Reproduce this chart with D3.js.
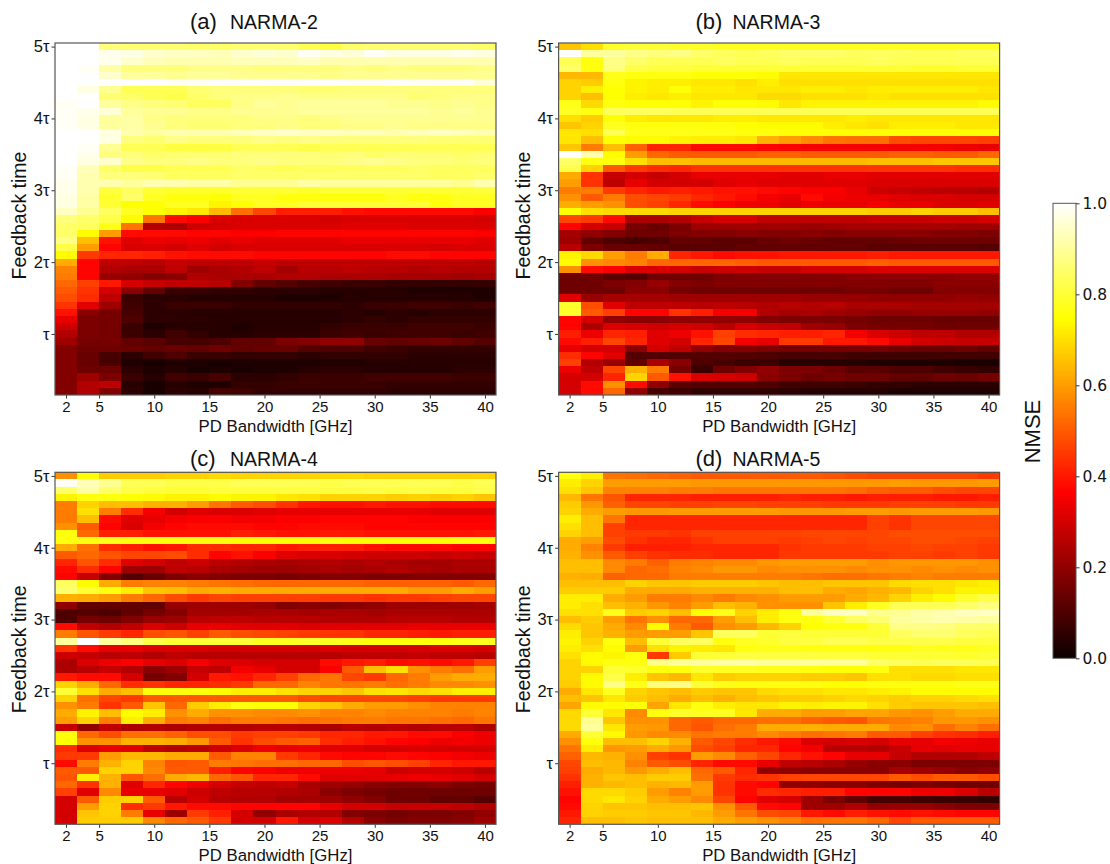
<!DOCTYPE html>
<html>
<head>
<meta charset="utf-8">
<script src="https://cdn.jsdelivr.net/npm/d3@7"></script>
<style>
  body { margin: 0; background: #fff; }
  text { font-family: "Liberation Sans", Arial, sans-serif; fill: #111; }
</style>
</head>
<body>
<div id="chart"></div>
<script>
// NMSE x 100, one line per feedback time, top row (5 tau) first, columns follow bandwidths
var bandwidths = [2,4,6,8,10,12,14,16,18,20,22,24,26,28,30,32,34,36,38,40];
var feedbackTimes = [5,4.9,4.8,4.7,4.6,4.5,4.4,4.3,4.2,4.1,4,3.9,3.8,3.7,3.6,3.5,3.4,3.3,3.2,3.1,3,2.9,2.8,2.7,2.6,2.5,2.4,2.3,2.2,2.1,2,1.9,1.8,1.7,1.6,1.5,1.4,1.3,1.2,1.1,1,0.9,0.8,0.7,0.6,0.5,0.4,0.3,0.2];
var xTicks = [2,5,10,15,20,25,30,35,40];
var yTicks = [1,2,3,4,5];
var yTickLabels = ["τ","2τ","3τ","4τ","5τ"];
var cbarTicks = [0,0.2,0.4,0.6,0.8,1];

var narma2 = [
[100,100,87,86,86,86,85,85,86,86,86,83,81,85,86,86,86,86,86,85],
[100,100,98,97,95,94,94,93,95,96,95,99,97,96,99,97,97,97,98,97],
[100,100,98,95,93,92,92,92,93,93,93,94,92,92,92,92,92,92,92,92],
[100,99,91,87,87,87,88,88,88,87,87,87,87,88,87,88,87,87,87,88],
[100,100,95,90,90,89,90,90,89,89,89,89,88,89,89,89,89,89,89,89],
[100,100,100,100,100,99,99,100,100,100,100,100,100,99,99,100,99,99,99,96],
[100,97,89,83,83,83,86,87,87,87,87,86,86,87,87,87,87,87,87,87],
[100,100,86,85,83,82,85,87,88,88,89,88,88,88,88,88,86,87,88,88],
[99,100,90,88,87,86,84,84,88,90,89,90,90,90,90,89,89,88,89,88],
[99,98,96,90,89,89,88,88,89,89,89,90,90,90,90,90,90,89,90,89],
[99,97,90,91,88,87,87,87,87,88,88,87,88,89,89,89,89,89,89,89],
[99,97,90,91,89,87,86,86,87,87,88,87,87,88,88,89,88,88,88,88],
[100,100,97,92,90,92,92,92,93,94,95,94,94,93,93,92,93,94,93,92],
[100,100,97,87,86,88,87,87,87,88,87,88,87,87,87,87,87,86,86,86],
[100,99,89,83,83,81,81,81,83,83,83,82,83,83,83,83,83,83,83,83],
[100,98,87,87,85,86,86,86,87,87,87,87,86,87,85,86,86,86,85,86],
[100,97,95,88,87,87,88,87,87,88,87,87,87,88,89,88,87,87,86,87],
[99,93,85,82,82,83,83,83,85,84,83,84,84,84,84,84,85,84,84,84],
[99,92,87,87,86,84,84,84,85,85,85,85,85,85,85,85,85,84,84,85],
[98,92,92,90,92,92,91,91,89,89,89,91,90,90,90,90,90,90,89,92],
[98,92,81,84,80,79,79,79,80,80,80,79,80,80,80,80,80,80,80,81],
[97,91,79,85,78,76,76,75,78,78,76,76,76,76,76,78,76,76,78,78],
[97,91,80,75,75,78,78,73,75,78,78,80,80,80,80,80,80,76,78,78],
[94,89,84,78,75,73,71,64,53,47,41,41,41,39,38,38,38,38,38,36],
[87,85,82,74,54,38,36,31,31,31,31,31,30,31,31,31,31,31,31,30],
[85,84,77,54,25,24,29,30,31,31,31,31,31,32,32,32,31,31,31,31],
[85,74,60,38,38,38,37,37,36,36,37,37,37,37,37,37,37,37,37,36],
[88,65,39,32,34,33,34,32,33,32,32,32,32,33,33,33,33,33,33,32],
[82,60,37,31,31,30,32,30,31,31,31,31,31,31,31,31,31,30,31,31],
[74,45,42,42,41,39,38,38,38,37,37,37,37,37,37,38,38,37,37,37],
[62,37,27,27,26,28,27,27,27,28,27,27,27,27,27,27,27,27,27,26],
[56,37,25,24,24,27,22,24,25,27,23,26,26,27,26,26,25,26,25,25],
[55,37,21,20,18,19,25,24,24,24,25,25,24,24,24,23,23,23,22,23],
[52,46,40,30,28,27,27,26,18,13,11,9,8,7,7,6,6,6,6,6],
[50,44,30,19,13,7,7,6,6,5,5,5,4,4,4,4,3,3,3,3],
[48,43,27,7,5,5,4,4,4,4,3,3,3,4,4,4,4,4,4,3],
[44,32,22,8,5,7,7,7,6,6,6,6,6,5,7,7,8,8,7,8],
[39,19,16,9,5,5,4,4,4,4,4,4,4,5,4,5,4,5,5,5],
[33,17,16,10,5,5,5,4,4,4,4,4,4,5,6,5,6,6,6,6],
[29,17,16,7,3,4,4,4,3,4,4,4,6,7,7,7,8,8,8,7],
[25,17,16,7,5,8,6,4,4,5,5,5,7,8,7,8,8,8,7,8],
[22,16,16,13,12,9,9,10,13,13,17,18,20,20,14,13,14,15,13,11],
[18,15,15,14,13,14,13,15,13,14,14,11,10,10,8,7,6,6,6,6],
[18,14,9,5,8,10,7,7,6,6,6,5,6,6,6,6,5,5,5,5],
[18,14,9,3,2,3,3,2,3,3,3,3,3,3,4,4,4,4,4,4],
[18,15,15,5,3,4,2,3,2,3,3,4,5,5,4,4,4,4,5,5],
[18,22,17,7,4,8,7,9,5,5,6,7,7,7,8,8,8,8,7,7],
[18,25,27,4,2,4,3,3,6,6,7,7,7,7,7,6,6,6,6,6],
[18,25,18,5,2,5,4,9,8,6,6,6,6,6,6,5,5,5,5,5]
];

var narma3 = [
[66,70,79,80,80,79,79,78,78,78,78,78,78,78,78,78,78,78,78,78],
[100,90,90,88,87,88,85,84,83,84,85,85,85,84,84,84,83,83,84,84],
[83,76,88,85,83,83,83,84,83,83,84,83,83,83,84,83,83,83,83,83],
[85,76,87,82,81,81,80,80,80,80,80,80,80,80,80,80,79,79,80,80],
[64,64,77,76,76,76,75,75,75,74,71,71,71,71,71,71,71,71,71,71],
[68,67,76,73,72,72,71,71,70,72,70,70,70,70,70,70,70,70,70,70],
[68,72,75,73,72,75,72,72,71,71,71,72,72,71,72,72,72,72,72,71],
[68,65,75,72,71,72,71,71,71,69,69,70,70,70,71,70,70,70,70,70],
[77,69,76,75,75,75,73,75,75,74,71,73,73,73,73,73,73,73,73,74],
[78,76,84,84,84,83,83,83,83,83,83,83,83,83,83,83,83,83,83,83],
[70,67,75,72,71,71,71,72,72,71,71,71,71,72,71,71,71,71,71,71],
[66,68,78,76,76,76,76,76,75,74,74,74,72,71,70,72,72,72,71,71],
[71,70,83,77,77,77,77,77,76,76,75,75,75,75,75,75,75,75,75,75],
[71,65,75,74,74,73,72,72,71,63,60,57,54,53,53,48,47,47,47,46],
[66,55,65,51,42,42,38,38,38,37,36,35,35,35,35,35,35,35,34,33],
[100,92,74,60,52,50,50,50,50,51,51,50,50,50,50,51,51,50,50,52],
[85,76,76,70,65,65,64,64,64,64,64,64,64,64,65,65,65,66,66,66],
[82,68,50,45,43,42,44,44,44,44,44,44,44,44,44,44,44,44,43,43],
[62,44,28,30,28,30,33,33,33,33,32,32,33,33,32,32,32,32,32,32],
[60,44,27,33,30,30,30,32,33,32,32,32,32,32,31,31,31,31,31,31],
[55,55,45,42,40,41,40,39,39,38,37,36,36,33,29,28,27,26,26,25],
[58,50,55,48,47,45,42,40,38,35,33,38,35,34,33,32,31,31,30,30],
[62,60,58,48,46,42,38,36,34,34,32,34,33,33,35,33,33,31,31,32],
[75,70,69,69,69,68,68,68,68,68,68,68,68,68,67,67,68,67,67,65],
[47,45,38,24,24,25,28,30,30,27,27,27,27,27,28,28,28,29,29,30],
[37,30,28,16,14,17,22,22,22,22,22,21,22,23,23,23,23,23,22,22],
[23,20,18,15,15,17,18,18,19,18,18,19,18,19,19,19,19,18,18,17],
[22,13,10,9,10,13,13,12,12,14,15,14,13,13,13,14,15,15,15,15],
[26,17,14,14,13,12,12,12,13,13,13,13,13,13,12,12,12,12,12,11],
[73,69,60,55,62,42,40,38,39,39,40,40,40,40,41,40,40,40,40,40],
[74,58,57,56,52,52,52,52,51,50,50,50,50,50,51,50,50,50,50,50],
[58,38,36,31,31,30,28,29,29,28,28,30,30,30,31,31,31,31,31,31],
[15,15,12,11,15,15,15,17,18,18,18,18,18,19,19,19,19,19,20,20],
[15,15,17,18,21,18,17,18,18,18,18,18,18,18,18,18,18,19,19,19],
[15,15,15,19,19,16,15,15,15,15,15,15,15,16,16,15,15,18,18,18],
[32,21,23,23,23,22,22,22,22,22,22,21,21,21,20,20,20,20,21,20],
[79,48,32,27,27,27,26,27,26,25,26,25,26,24,24,24,23,23,23,23],
[79,50,46,37,37,44,41,35,35,25,23,24,22,21,20,20,21,21,21,20],
[37,30,20,19,19,20,20,20,20,18,17,17,17,16,15,15,15,14,14,14],
[37,24,31,30,29,30,29,26,30,28,27,22,21,17,16,16,16,15,15,15],
[41,34,42,41,32,34,39,46,43,42,41,41,42,35,31,29,27,27,25,25],
[38,41,47,42,32,30,42,47,35,33,45,45,40,40,38,33,30,29,28,28],
[33,30,30,19,30,27,20,18,18,17,16,16,16,16,16,15,14,14,15,13],
[43,37,32,11,11,11,11,11,11,10,9,9,9,8,8,8,8,8,8,8],
[46,25,21,13,24,19,10,9,7,7,4,4,4,4,3,3,3,3,2,2],
[34,27,47,63,55,16,7,15,18,20,17,17,15,12,12,10,10,8,7,6],
[30,30,42,68,50,39,31,30,29,19,17,15,16,15,15,13,13,15,14,16],
[30,38,58,38,20,12,11,11,11,10,8,8,8,7,6,6,5,5,5,5],
[30,38,52,20,9,8,6,6,6,6,5,4,4,4,4,3,3,3,3,3]
];

var narma4 = [
[58,75,67,67,67,68,68,69,68,68,68,68,69,69,68,68,68,68,68,68],
[99,93,89,83,83,82,82,82,83,83,83,83,82,83,83,83,83,83,82,83],
[85,91,85,82,81,80,80,81,81,81,81,81,81,81,82,81,82,81,81,82],
[73,76,76,75,74,73,73,74,73,73,71,70,68,68,68,67,68,67,68,66],
[55,68,65,65,63,63,60,54,50,48,44,40,39,39,40,39,39,38,38,38],
[55,70,55,43,35,30,32,31,31,32,33,33,33,33,33,33,33,32,32,32],
[55,65,38,32,33,35,36,36,35,35,36,36,37,37,37,37,36,36,36,36],
[58,50,37,31,35,37,38,38,38,37,37,38,38,38,37,37,37,37,37,37],
[76,52,41,41,39,39,39,39,41,40,39,39,40,40,39,39,39,39,39,40],
[76,76,77,76,76,76,76,76,75,75,75,75,76,75,75,75,75,75,76,76],
[62,53,43,41,39,40,43,43,42,42,40,41,41,41,39,38,38,38,37,37],
[50,52,49,47,47,48,43,37,39,36,32,31,31,30,29,29,29,28,29,28],
[42,49,43,32,30,27,29,26,25,24,23,24,25,24,25,24,23,23,24,24],
[38,43,37,22,22,27,26,24,23,22,22,23,24,23,24,25,24,23,24,24],
[37,28,18,11,14,17,19,18,17,17,16,17,18,18,17,17,18,18,18,18],
[84,74,62,55,56,56,55,54,53,52,52,52,52,52,51,51,51,51,50,52],
[86,80,76,72,66,65,62,63,62,62,62,62,62,62,62,62,60,60,62,60],
[63,62,60,55,52,48,45,47,46,46,46,46,45,45,44,45,45,46,47,47],
[20,13,13,13,13,21,22,22,22,21,18,19,18,19,20,22,22,22,22,23],
[10,11,10,13,16,18,23,23,23,24,24,23,24,24,23,24,24,24,24,24],
[10,16,15,18,21,22,26,27,27,26,26,26,25,25,25,26,26,26,25,25],
[38,27,25,27,31,29,33,33,32,32,32,31,32,32,32,32,33,33,33,33],
[55,49,45,42,48,49,46,50,48,47,46,45,44,44,42,42,41,40,41,41],
[90,100,90,87,82,80,80,80,80,78,78,79,78,77,76,76,76,76,77,78],
[44,38,33,33,31,31,31,30,30,30,30,30,31,30,30,30,30,31,31,30],
[29,28,26,27,25,27,26,26,26,26,26,26,26,27,27,27,28,27,27,26],
[24,31,34,36,33,31,35,32,31,30,30,30,38,40,41,38,39,38,40,46],
[24,26,28,25,19,22,28,27,35,33,30,30,36,50,65,70,58,55,53,60],
[40,38,38,30,16,18,30,40,39,42,46,52,54,47,45,52,55,60,62,62],
[68,62,52,43,44,42,42,43,45,52,52,56,54,54,55,53,55,57,57,58],
[80,70,62,65,76,76,76,74,72,72,70,68,68,66,70,71,69,70,72,72],
[68,53,47,45,50,50,50,50,50,50,50,48,47,47,47,47,46,45,45,45],
[58,55,44,50,66,52,67,72,76,75,75,68,66,62,60,60,58,56,56,56],
[62,73,65,74,72,58,62,58,58,57,57,58,56,56,57,56,56,56,55,56],
[60,68,55,72,62,55,56,53,55,55,54,53,54,55,55,54,54,53,52,54],
[28,20,27,24,25,24,25,25,25,26,26,25,24,26,25,26,25,26,26,24],
[76,52,48,53,53,51,48,48,45,46,46,45,42,42,40,40,38,38,36,34],
[75,58,58,63,63,62,59,50,44,48,50,51,43,41,39,37,36,34,35,34],
[43,31,33,32,27,25,26,29,31,34,33,34,32,32,30,30,31,30,30,30],
[45,45,60,64,64,62,62,50,56,56,45,42,38,37,37,38,37,36,35,34],
[38,55,63,68,56,49,50,55,54,53,53,52,52,48,49,48,46,42,40,40],
[50,50,68,68,57,50,50,41,37,36,34,34,34,34,33,29,30,30,29,26],
[49,72,63,49,53,62,64,52,49,42,42,38,32,32,32,33,34,33,32,30],
[52,44,63,32,42,37,34,30,28,27,28,24,22,21,19,18,18,19,17,16],
[46,32,57,33,33,32,29,27,26,26,25,24,19,17,16,15,15,15,15,15],
[30,50,67,68,50,26,30,26,25,25,23,23,22,20,18,15,15,13,13,11],
[30,60,68,43,45,40,38,38,37,37,37,37,33,30,30,28,28,28,27,25],
[30,66,68,55,33,22,45,41,30,20,24,25,25,18,17,16,17,17,18,20],
[30,67,67,67,57,52,50,45,30,30,40,30,31,25,19,17,18,18,19,22]
];

var narma5 = [
[76,72,54,53,52,51,50,50,50,50,50,50,49,48,47,47,47,47,47,45],
[72,68,60,60,60,60,59,59,59,59,59,59,59,59,59,60,59,59,59,60],
[70,66,56,56,56,55,55,54,54,54,54,54,54,53,51,50,50,48,47,47],
[64,54,49,42,42,42,41,41,41,41,42,41,41,40,41,41,41,40,40,41],
[67,59,51,47,47,46,46,47,47,46,46,46,45,45,45,46,46,46,45,45],
[68,62,60,59,59,60,60,60,60,60,59,59,59,60,60,59,60,60,60,59],
[72,65,54,42,42,42,42,42,42,42,42,42,42,42,46,44,47,47,47,47],
[70,65,46,42,42,42,42,42,42,42,42,42,42,42,46,44,47,47,47,47],
[68,65,46,45,45,44,46,46,46,46,46,47,47,47,47,48,48,48,48,48],
[62,60,48,44,42,42,44,46,46,46,45,46,47,46,47,47,48,48,47,46],
[62,56,45,41,41,41,42,42,42,42,44,45,45,45,46,46,47,46,46,45],
[63,58,50,46,44,43,43,42,42,42,45,45,45,45,45,46,46,45,46,45],
[65,65,57,55,51,55,56,57,57,59,60,60,60,60,58,59,59,59,59,58],
[65,65,57,52,53,56,57,59,59,57,58,58,58,57,58,58,57,58,57,58],
[63,62,51,52,52,55,55,55,55,55,55,54,53,53,54,55,56,55,55,55],
[65,65,65,68,66,66,67,67,67,66,65,65,66,66,66,69,70,70,71,72],
[67,67,67,62,62,62,63,63,63,63,65,65,62,61,63,64,68,70,73,73],
[72,72,62,60,55,55,57,55,57,58,60,60,60,62,64,68,72,74,79,82],
[72,70,65,63,59,56,60,65,63,58,58,58,66,72,78,83,83,83,85,87],
[70,70,77,67,68,65,75,77,68,72,76,90,94,94,89,89,91,92,94,94],
[65,67,60,54,58,52,52,60,65,72,76,76,80,84,86,90,91,92,91,90],
[69,66,62,57,74,55,50,58,60,64,68,75,76,76,80,88,88,87,85,85],
[72,66,63,60,60,60,66,84,84,80,81,80,80,80,80,84,86,86,84,83],
[73,68,76,65,80,84,84,76,78,79,81,81,83,83,82,82,82,82,81,81],
[72,70,74,60,70,73,72,71,76,77,77,76,76,76,76,76,78,77,77,78],
[70,74,73,76,45,67,80,80,81,81,81,81,81,81,80,80,80,80,79,80],
[68,74,76,76,88,90,90,91,91,90,90,90,90,90,85,84,83,84,84,83],
[68,68,80,79,76,76,79,78,78,77,77,76,75,75,76,70,70,70,71,71],
[68,74,82,72,66,64,71,67,68,68,68,67,67,66,70,70,69,69,70,70],
[67,74,88,77,87,88,80,77,76,76,76,76,75,75,76,76,76,76,77,77],
[62,71,78,68,66,65,67,66,66,69,70,70,71,71,72,73,74,74,74,74],
[65,66,71,67,65,62,65,63,65,66,67,67,68,69,68,67,68,68,69,70],
[61,74,74,75,61,71,76,72,71,71,73,72,73,73,70,67,66,66,66,65],
[69,80,71,57,76,79,78,78,71,62,62,60,60,61,61,59,58,60,62,62],
[69,89,66,58,58,52,50,52,52,53,53,51,50,49,54,55,56,59,59,58],
[69,90,71,60,59,52,49,53,55,62,62,63,62,62,62,57,58,53,56,53],
[62,80,74,59,57,57,54,55,55,57,55,53,54,55,50,50,46,44,43,41],
[58,76,65,65,68,63,50,47,43,40,38,31,30,31,30,33,33,35,34,33],
[54,72,59,60,62,59,48,46,42,42,37,35,26,26,25,28,33,32,33,33],
[51,64,63,58,46,44,60,57,51,47,42,39,37,33,33,28,25,25,25,27],
[47,65,64,56,50,48,42,38,38,33,27,26,24,21,19,19,17,17,17,17],
[46,62,64,59,62,65,52,50,42,20,20,19,19,19,19,23,22,21,19,20],
[44,63,66,65,67,67,53,45,43,44,46,47,47,47,47,50,48,50,50,48],
[41,63,64,65,63,64,60,44,38,37,20,20,19,19,17,16,17,16,15,15],
[39,69,69,67,60,56,60,44,38,43,42,41,41,37,37,37,34,34,31,26],
[37,69,71,68,62,60,57,47,37,32,30,22,17,13,9,9,8,7,7,6],
[38,68,66,66,65,65,66,58,50,38,37,22,22,25,20,21,21,19,17,17],
[40,68,67,67,66,66,64,60,54,48,47,40,38,41,39,38,39,38,37,37],
[42,65,65,66,65,65,65,62,60,58,56,53,54,54,52,47,50,50,50,50]
];

var panels = [
  {label: "(a)", name: "NARMA-2", values: narma2, left: 55, top: 43, labelX: 190, nameX: 230, titleY: -14, ylabelDy: -3.5},
  {label: "(b)", name: "NARMA-3", values: narma3, left: 558.6, top: 43, labelX: 695.5, nameX: 732.5, titleY: -14, ylabelDy: -3.5},
  {label: "(c)", name: "NARMA-4", values: narma4, left: 55, top: 472.3, labelX: 190, nameX: 230, titleY: -6.5, ylabelDy: 1},
  {label: "(d)", name: "NARMA-5", values: narma5, left: 558.6, top: 472.3, labelX: 695.5, nameX: 732.5, titleY: -6.5, ylabelDy: 1}
];
var plotW = 441, plotH = 352;

// same breakpoints as the matplotlib "hot" map
var hot = d3.scaleLinear()
  .domain([0, 0.365, 0.746, 1])
  .range(["#0b0000", "#ff0000", "#ffff00", "#ffffff"])
  .clamp(true);

var svg = d3.select("#chart").append("svg")
  .attr("width", 1110)
  .attr("height", 864);

panels.forEach(function(p) {
  var g = svg.append("g").attr("transform", "translate(" + p.left + "," + p.top + ")");

  var x = d3.scaleLinear().domain([1, 41]).range([0, plotW]);
  var y = d3.scaleLinear().domain([0.15, 5.05]).range([plotH, 0]);

  p.values.forEach(function(row, r) {
    g.selectAll(null)
      .data(row)
      .enter().append("rect")
        .attr("x", function(d, c) { return x(bandwidths[c] - 1); })
        .attr("y", y(feedbackTimes[r] + 0.05))
        .attr("width", x(3) - x(1))
        .attr("height", y(0) - y(0.1))
        .attr("shape-rendering", "crispEdges")
        .attr("fill", function(d) { return hot(d / 100); });
  });

  var xAxis = d3.axisBottom(x).tickValues(xTicks).tickSize(3.5).tickPadding(3);
  var yAxis = d3.axisLeft(y).tickValues(yTicks).tickSize(3.5).tickPadding(2)
    .tickFormat(function(d, i) { return yTickLabels[i]; });

  var gx = g.append("g").attr("transform", "translate(0," + plotH + ")").call(xAxis);
  var gy = g.append("g").call(yAxis);

  gx.selectAll("text").attr("font-size", 15);
  gy.selectAll("text").attr("font-size", 16.5);

  [gx, gy].forEach(function(a) {
    a.select(".domain").remove();
    a.selectAll("line").attr("stroke", "#333").attr("stroke-width", 1);
    a.selectAll("text").style("fill", "#111");
  });

  g.append("rect")
    .attr("width", plotW).attr("height", plotH)
    .attr("fill", "none").attr("stroke", "#555").attr("stroke-width", 1.2);

  g.append("text")
    .attr("x", plotW / 2).attr("y", plotH + 36.5)
    .attr("text-anchor", "middle").attr("font-size", 16.8)
    .text("PD Bandwidth [GHz]");

  g.append("text")
    .attr("transform", "translate(-29," + (plotH / 2 + p.ylabelDy) + ") rotate(-90)")
    .attr("text-anchor", "middle").attr("font-size", 19.5)
    .text("Feedback time");

  g.append("text").attr("x", p.labelX - p.left).attr("y", p.titleY).attr("font-size", 22).text(p.label);
  g.append("text").attr("x", p.nameX - p.left).attr("y", p.titleY).attr("font-size", 19.5).text(p.name);
});

// colorbar
var cbar = svg.append("g").attr("transform", "translate(1053,203.3)");
var cbarW = 23, cbarH = 455;
var cy = d3.scaleLinear().domain([0, 1]).range([cbarH, 0]);

cbar.selectAll("rect.step")
  .data(d3.range(0, 256))
  .enter().append("rect")
    .attr("class", "step")
    .attr("x", 0)
    .attr("y", function(d) { return cy((d + 1) / 256); })
    .attr("width", cbarW)
    .attr("height", cbarH / 256)
    .attr("shape-rendering", "crispEdges")
    .attr("fill", function(d) { return hot((d + 0.5) / 256); });

cbar.append("rect")
  .attr("width", cbarW).attr("height", cbarH)
  .attr("fill", "none").attr("stroke", "#555").attr("stroke-width", 1);

var gc = cbar.append("g").attr("transform", "translate(" + cbarW + ",0)")
  .call(d3.axisRight(cy).tickValues(cbarTicks).tickSize(3.5).tickPadding(3).tickFormat(d3.format(".1f")));
gc.select(".domain").remove();
gc.selectAll("line").attr("stroke", "#333");
gc.selectAll("text")
  .attr("font-size", 15.5)
  .style("font-family", "'DejaVu Sans', sans-serif")
  .style("fill", "#111");

svg.append("text")
  .attr("transform", "translate(1040,431.5) rotate(-90)")
  .attr("text-anchor", "middle").attr("font-size", 22)
  .text("NMSE");
</script>
</body>
</html>
